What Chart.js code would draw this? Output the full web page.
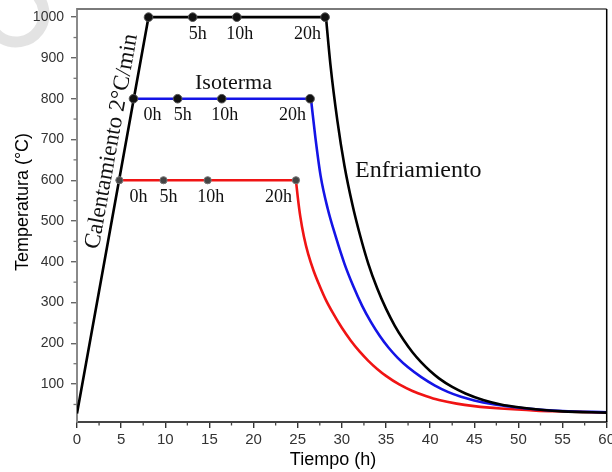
<!DOCTYPE html>
<html>
<head>
<meta charset="utf-8">
<script src="https://cdn.jsdelivr.net/npm/chart.js@4.4.0/dist/chart.umd.min.js"></script>
<style>
  html, body { margin: 0; padding: 0; background: #fff; }
  #wrap { width: 612px; height: 472px; }
</style>
</head>
<body>
<div id="wrap"><canvas id="chart" width="612" height="472"></canvas></div>
<script>
// Values
const xTicks = [0, 5, 10, 15, 20, 25, 30, 35, 40, 45, 50, 55, 60];
const xMinor = [2.5, 7.5, 12.5, 17.5, 22.5, 27.5, 32.5, 37.5, 42.5, 47.5, 52.5, 57.5];
const yTicks = [100, 200, 300, 400, 500, 600, 700, 800, 900, 1000];
const yMinor = [50, 150, 250, 350, 450, 550, 650, 750, 850, 950];

// heating ramp, 2 C/min
const heatTime = [0, 8.1];
const heatTemp = [28, 1000];

// isotherms: black, blue, red
const isoTemp = [1000, 800, 600];
const isoStart = [8.1, 6.4, 4.8];
const isoEnd = [28.2, 26.5, 24.8];
const markHours = [0, 5, 10, 20];
const markNames = ['0h', '5h', '10h', '20h'];

// cooling curves
const blackCoolTime = [28.2, 28.7, 29.5, 30.3, 31.2, 32.1, 33, 34, 35, 36, 37, 38, 39, 40, 41, 42.5, 44, 46, 48, 50, 52.5, 55, 60];
const blackCoolTemp = [1000, 885, 745, 635, 540, 462, 395, 335, 285, 243, 208, 178, 153, 132, 114, 93, 77, 61, 50, 43, 37, 33, 30];
const blueCoolTime = [26.5, 27, 27.6, 28.4, 29.3, 30.3, 31.3, 32.3, 33.3, 34.3, 35.3, 36.3, 37.5, 39, 40.5, 42, 43.5, 45, 47, 49, 51, 55, 60];
const blueCoolTemp = [800, 705, 610, 530, 462, 395, 340, 292, 252, 218, 189, 165, 141, 117, 97, 81, 69, 60, 51, 45, 40, 34, 31];
const redCoolTime = [24.8, 25, 25.3, 25.7, 26.2, 26.8, 27.5, 28.2, 29, 30, 31, 32, 33, 34, 35, 36.5, 38, 39.5, 41, 43, 45, 48, 52, 55, 60];
const redCoolTemp = [600, 560, 510, 462, 418, 378, 340, 306, 274, 238, 207, 180, 157, 137, 120, 99, 83, 71, 61, 52, 46, 40, 35, 33, 30];

const colors = ['#000000', '#1414e6', '#f01414'];

function pts(xs, ys) {
  return xs.map((x, i) => ({ x: x, y: ys[i] }));
}

function markers(k) {
  return markHours.map(h => ({ x: isoStart[k] + h, y: isoTemp[k] }));
}

// label placement next to the markers
const labelAlign = ['left', 'center', 'center', 'right'];
const labelDx = [10, 5, 3, -4];
const labelShown = [[false, true, true, true], [true, true, true, true], [true, true, true, true]];

const decor = {
  id: 'decor',
  beforeDraw(chart) {
    const c = chart.ctx;
    c.save();
    c.fillStyle = '#fff';
    c.fillRect(0, 0, chart.width, chart.height);
    // faint ring in the corner of the scan
    c.strokeStyle = 'rgba(215,215,215,0.7)';
    c.lineWidth = 11;
    c.beginPath();
    c.arc(16, 14, 28, -0.55 * Math.PI, 0.95 * Math.PI);
    c.stroke();
    c.restore();
  },
  afterDraw(chart) {
    const c = chart.ctx;
    const a = chart.chartArea;
    const xs = chart.scales.x, ys = chart.scales.y;
    c.save();
    // frame
    c.strokeStyle = '#7a7a7a';
    c.lineWidth = 2;
    c.beginPath();
    c.moveTo(a.left, a.top);
    c.lineTo(a.right, a.top);
    c.stroke();
    c.strokeStyle = '#000';
    c.lineWidth = 1.5;
    c.beginPath();
    c.moveTo(a.right, a.top);
    c.lineTo(a.right, a.bottom);
    c.stroke();
    // minor ticks
    c.strokeStyle = '#444';
    c.lineWidth = 1.3;
    xMinor.forEach(v => {
      const px = xs.getPixelForValue(v);
      c.beginPath();
      c.moveTo(px, a.bottom);
      c.lineTo(px, a.bottom + 3.5);
      c.stroke();
    });
    c.strokeStyle = '#777';
    yMinor.forEach(v => {
      const py = ys.getPixelForValue(v);
      c.beginPath();
      c.moveTo(a.left, py);
      c.lineTo(a.left - 3.5, py);
      c.stroke();
    });

    // marker labels
    c.fillStyle = '#111';
    c.font = '18px "Liberation Serif"';
    c.textBaseline = 'alphabetic';
    for (let k = 0; k < 3; k++) {
      markHours.forEach((h, i) => {
        if (!labelShown[k][i]) return;
        const px = xs.getPixelForValue(isoStart[k] + h);
        const py = ys.getPixelForValue(isoTemp[k]);
        c.textAlign = labelAlign[i];
        c.fillText(markNames[i], px + labelDx[i], py + 21.5);
      });
    }

    // annotations
    c.textAlign = 'left';
    c.font = '22px "Liberation Serif"';
    c.fillText('Isoterma', 195, 89);
    c.font = '24px "Liberation Serif"';
    c.fillText('Enfriamiento', 355, 177);

    const p0x = xs.getPixelForValue(heatTime[0]), p0y = ys.getPixelForValue(heatTemp[0]);
    const p1x = xs.getPixelForValue(heatTime[1]), p1y = ys.getPixelForValue(heatTemp[1]);
    const ang = Math.atan2(p1y - p0y, p1x - p0x);
    const f = 0.68;
    const mx = p0x + (p1x - p0x) * f, my = p0y + (p1y - p0y) * f;
    const nx = Math.sin(ang), ny = -Math.cos(ang);
    c.save();
    c.translate(mx + nx * 14, my + ny * 14);
    c.rotate(ang);
    c.textAlign = 'center';
    c.textBaseline = 'middle';
    c.font = '23px "Liberation Serif"';
    c.fillText('Calentamiento 2°C/min', 0, 0);
    c.restore();

    // axis titles
    c.fillStyle = '#000';
    c.font = '18px "Liberation Sans"';
    c.textAlign = 'center';
    c.textBaseline = 'alphabetic';
    c.fillText('Tiempo (h)', 333, 465);
    c.save();
    c.translate(28, 202);
    c.rotate(-Math.PI / 2);
    c.fillText('Temperatura (°C)', 0, 0);
    c.restore();
    c.restore();
  }
};

const lineBase = { showLine: true, pointRadius: 0, borderWidth: 2.6, fill: false };
const coolBase = Object.assign({}, lineBase, { cubicInterpolationMode: 'monotone' });
const markBase = { showLine: false, pointRadius: 4.3, pointBorderWidth: 1 };

new Chart(document.getElementById('chart'), {
  type: 'line',
  data: {
    datasets: [
      Object.assign({}, markBase, { data: markers(0), pointBackgroundColor: '#111', pointBorderColor: '#555' }),
      Object.assign({}, markBase, { data: markers(1), pointBackgroundColor: '#111', pointBorderColor: '#555' }),
      Object.assign({}, markBase, { data: markers(2), pointBackgroundColor: '#444', pointBorderColor: '#777', pointRadius: 3.6 }),
      Object.assign({}, lineBase, { data: pts(heatTime.concat([isoEnd[0]]), heatTemp.concat([isoTemp[0]])), borderColor: colors[0] }),
      Object.assign({}, coolBase, { data: pts(blackCoolTime, blackCoolTemp), borderColor: colors[0] }),
      Object.assign({}, lineBase, { data: pts([isoStart[1], isoEnd[1]], [isoTemp[1], isoTemp[1]]), borderColor: colors[1] }),
      Object.assign({}, coolBase, { data: pts(blueCoolTime, blueCoolTemp), borderColor: colors[1] }),
      Object.assign({}, lineBase, { data: pts([isoStart[2], isoEnd[2]], [isoTemp[2], isoTemp[2]]), borderColor: colors[2] }),
      Object.assign({}, coolBase, { data: pts(redCoolTime, redCoolTemp), borderColor: colors[2] })
    ]
  },
  options: {
    responsive: false,
    animation: false,
    devicePixelRatio: 1,
    layout: { padding: { top: 9, right: 5, left: 0, bottom: 0 } },
    plugins: { legend: { display: false }, tooltip: { enabled: false } },
    scales: {
      x: {
        type: 'linear',
        min: 0,
        max: 60,
        afterFit: s => { s.height = 50; s.paddingLeft = 0; s.paddingRight = 0; },
        afterBuildTicks: s => { s.ticks = xTicks.map(v => ({ value: v })); },
        ticks: { font: { family: 'Liberation Sans', size: 15 }, color: '#333', padding: 3, maxRotation: 0, autoSkip: false, callback: v => String(v) },
        grid: { drawOnChartArea: false, tickLength: 6, color: '#333', lineWidth: 1.4 },
        border: { color: '#444', width: 2 }
      },
      y: {
        type: 'linear',
        min: 7,
        max: 1020,
        afterFit: s => { s.width = 77; s.paddingTop = 0; s.paddingBottom = 0; },
        afterBuildTicks: s => { s.ticks = yTicks.map(v => ({ value: v })); },
        ticks: { font: { family: 'Liberation Sans', size: 14 }, color: '#333', padding: 7, autoSkip: false, callback: v => String(v) },
        grid: { drawOnChartArea: false, tickLength: 6, color: '#666', lineWidth: 1.4 },
        border: { color: '#8a8a8a', width: 2 }
      }
    }
  },
  plugins: [decor]
});
</script>
</body>
</html>
